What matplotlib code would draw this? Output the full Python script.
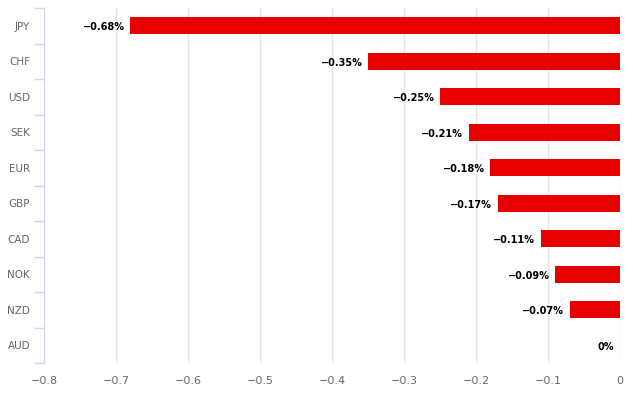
import matplotlib.pyplot as plt
import numpy as np

currencies = ['JPY', 'CHF', 'USD', 'SEK', 'EUR', 'GBP', 'CAD', 'NOK', 'NZD', 'AUD']
changes = [-0.68, -0.35, -0.25, -0.21, -0.18, -0.17, -0.11, -0.09, -0.07, 0.0]
xticks = [-0.8, -0.7, -0.6, -0.5, -0.4, -0.3, -0.2, -0.1, 0]

fig = plt.figure(figsize=(6.33, 3.98), dpi=100)
ax = fig.add_axes([44 / 633, 35 / 398, 576 / 633, 355 / 398])

y = np.arange(len(currencies))
ax.barh(y, changes, height=0.48, color='#e60000', zorder=3)

# value labels, just left of bar end
for yi, v in zip(y, changes):
    txt = '0%' if v == 0 else ('\u2212%.2f%%' % abs(v))
    ax.annotate(txt, (v, yi), xytext=(-4, -1), textcoords='offset points',
                ha='right', va='center', fontsize=7, fontweight='bold', color='#000000')

ax.set_xlim(-0.8, 0)
ax.set_ylim(len(currencies) - 0.5, -0.5)

ax.set_xticks(xticks)
ax.set_xticklabels(['0' if t == 0 else '\u2212%g' % abs(t) for t in xticks],
                   fontsize=8, color='#666666')
ax.tick_params(axis='x', length=0, pad=9)
ax.grid(axis='x', color='#e6e6e6', linewidth=1, zorder=0)

ax.set_yticks(y)
ax.set_yticklabels(currencies, fontsize=7.5, color='#666666')
ax.tick_params(axis='y', which='major', length=0, pad=10)
ax.set_yticks(np.arange(-0.5, len(currencies), 1), minor=True)
ax.tick_params(axis='y', which='minor', length=7, color='#ccd6eb', width=1)

for s in ['top', 'right', 'bottom']:
    ax.spines[s].set_visible(False)
ax.spines['left'].set_color('#ccd6eb')

plt.savefig('out.png', dpi=100)
